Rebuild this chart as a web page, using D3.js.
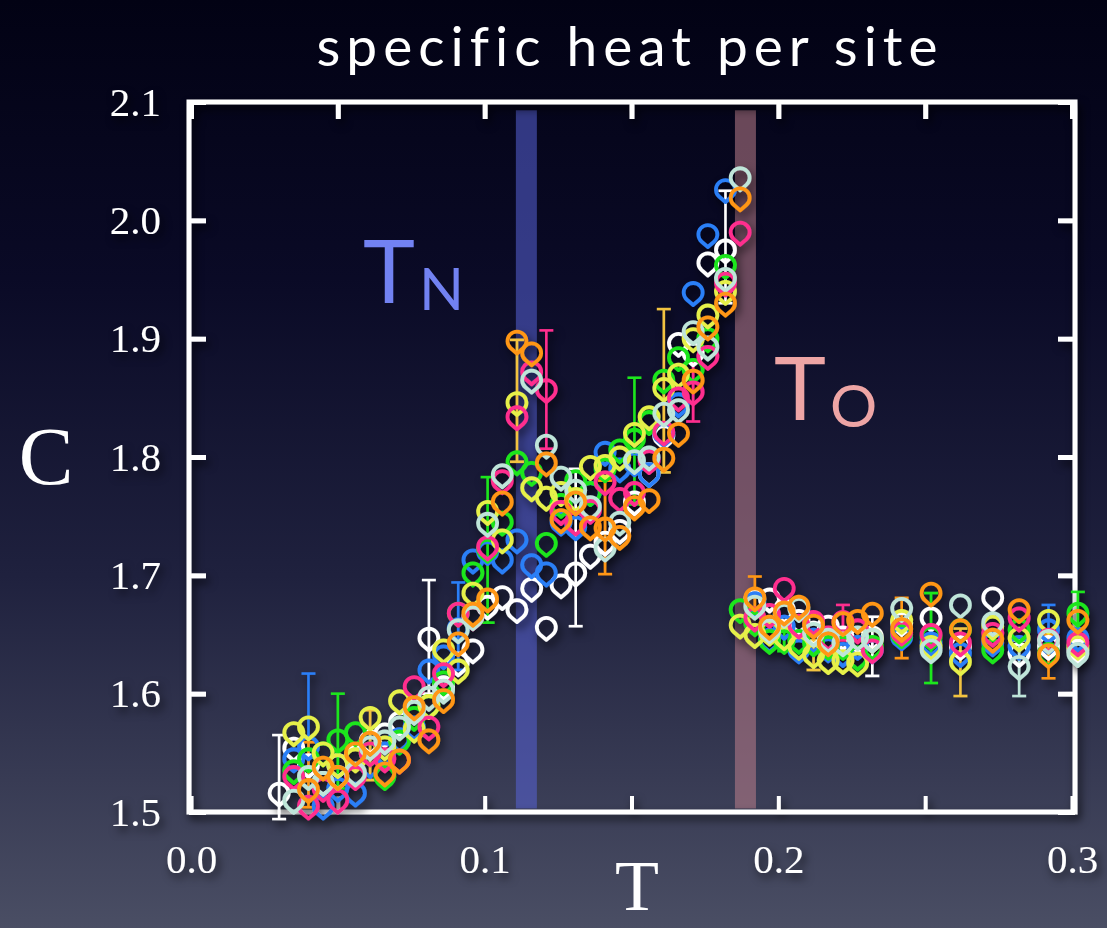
<!DOCTYPE html>
<html>
<head>
<meta charset="utf-8">
<style>
  html, body { margin: 0; padding: 0; background: #05051a; }
  svg { display: block; }
  .axis text { font-family: "Liberation Serif", "Times New Roman", serif; fill: #fff; }
  .axis line { stroke: #fff; }
  .axis path { display: none; }
</style>
</head>
<body>
<script src="https://cdnjs.cloudflare.com/ajax/libs/d3/7.8.5/d3.min.js"></script>
<script>
// temperatures: first 32 = ordered branch, last 17 = high-T branch
var temps = [0.030, 0.035, 0.040, 0.045, 0.050, 0.056, 0.061, 0.066, 0.071, 0.076, 0.081, 0.086, 0.091, 0.096, 0.101, 0.106,
             0.111, 0.116, 0.121, 0.126, 0.131, 0.136, 0.141, 0.146, 0.151, 0.156, 0.161, 0.166, 0.171, 0.176, 0.182, 0.187,
             0.187, 0.192, 0.197, 0.202, 0.207, 0.212, 0.217, 0.222, 0.227, 0.232, 0.242, 0.252, 0.262, 0.273, 0.282, 0.292, 0.302];

var cWhite = [1.516, 1.554, 1.540, 1.525, 1.540, 1.548, 1.560, 1.566, 1.576, 1.586, 1.647, 1.606, 1.626, 1.637, 1.674, 1.682,
              1.671, 1.689, 1.656, 1.692, 1.702, 1.717, 1.728, 1.738, 1.762, 1.786, 1.818, 1.896, 1.888, 1.964, 1.975, null,
              null, 1.680, 1.680, 1.671, 1.662, 1.652, 1.657, 1.648, 1.646, 1.648, 1.660, 1.664, 1.640, 1.681, 1.634, 1.640, 1.637];
var cBlue = [null, 1.545, 1.555, 1.505, 1.520, 1.516, 1.540, 1.550, 1.562, 1.572, 1.620, 1.632, 1.655, 1.713, 1.720, 1.713,
             1.730, 1.709, 1.702, 1.745, 1.741, 1.770, 1.804, 1.790, 1.795, 1.786, 1.820, 1.845, 1.939, 1.988, 2.026, null,
             null, 1.677, 1.646, 1.657, 1.637, 1.646, 1.638, 1.634, 1.640, 1.637, 1.648, 1.643, 1.634, 1.643, 1.640, 1.654, 1.647];
var cGreen = [null, 1.535, 1.545, 1.550, 1.561, 1.567, 1.550, 1.530, 1.560, 1.580, 1.590, 1.610, 1.668, 1.702, 1.722, 1.745,
              1.796, 1.787, 1.727, 1.760, 1.780, 1.770, 1.790, 1.806, 1.815, 1.830, 1.865, 1.884, 1.874, 1.900, 1.962, null,
              1.671, 1.660, 1.645, 1.645, 1.645, 1.643, 1.640, 1.640, 1.631, 1.640, 1.650, 1.648, 1.654, 1.637, 1.654, 1.634, 1.668];
var cYellow = [null, 1.567, 1.572, 1.550, 1.540, 1.545, 1.580, 1.555, 1.594, 1.570, 1.590, 1.637, 1.620, 1.685, 1.754, 1.730,
               1.846, 1.774, 1.766, 1.770, 1.765, 1.792, 1.793, 1.800, 1.820, 1.834, 1.858, 1.870, 1.900, 1.920, 1.940, null,
               1.658, 1.650, 1.652, 1.648, 1.640, 1.633, 1.628, 1.628, 1.626, 1.646, 1.662, 1.640, 1.627, 1.657, 1.647, 1.662, 1.640];
var cPink = [null, 1.530, 1.505, 1.520, 1.510, 1.530, 1.550, 1.545, 1.544, 1.606, 1.572, 1.617, 1.668, 1.665, 1.724, 1.780,
             1.834, 1.872, 1.857, 1.754, 1.745, 1.755, 1.779, 1.765, 1.770, 1.797, 1.821, 1.850, 1.855, 1.885, 1.947, 1.990,
             null, 1.664, 1.667, 1.689, 1.658, 1.661, 1.648, 1.661, 1.654, 1.637, 1.652, 1.650, 1.643, 1.651, 1.664, 1.646, 1.643];
var cMint = [null, 1.510, 1.530, 1.525, 1.530, 1.533, 1.555, 1.560, 1.572, 1.585, 1.597, 1.603, 1.654, 1.665, 1.744, 1.785,
             null, 1.865, 1.810, 1.783, 1.772, 1.758, 1.723, 1.745, 1.797, 1.800, 1.837, 1.840, 1.906, 1.893, 1.951, 2.036,
             null, 1.674, 1.654, 1.667, 1.672, 1.651, 1.646, 1.643, 1.648, 1.646, 1.672, 1.637, 1.675, 1.660, 1.623, 1.645, 1.634];
var cOrange = [null, null, 1.519, 1.538, 1.530, 1.550, 1.559, 1.533, 1.544, 1.589, 1.561, 1.595, 1.643, 1.668, 1.680, 1.762,
               1.898, 1.888, 1.795, 1.747, 1.762, 1.741, 1.740, 1.733, 1.758, 1.764, 1.799, 1.820, 1.865, 1.910, 1.930, 2.019,
               null, 1.681, 1.657, 1.669, 1.674, 1.658, 1.643, 1.660, 1.662, 1.668, 1.655, 1.685, 1.654, 1.646, 1.671, 1.633, 1.662];

// [series, T, low, high]
var errorBars = [
  ["white", 0.030, 1.494, 1.565], ["blue", 0.040, 1.510, 1.617], ["orange", 0.040, 1.504, 1.559],
  ["green", 0.050, 1.520, 1.600], ["yellow", 0.061, 1.527, 1.586], ["white", 0.081, 1.600, 1.696],
  ["blue", 0.091, 1.620, 1.694], ["green", 0.101, 1.660, 1.783], ["yellow", 0.111, 1.796, 1.899],
  ["pink", 0.121, 1.807, 1.907], ["white", 0.131, 1.657, 1.790], ["orange", 0.141, 1.701, 1.780],
  ["green", 0.151, 1.760, 1.867], ["yellow", 0.161, 1.787, 1.925], ["pink", 0.171, 1.830, 1.880],
  ["white", 0.182, 1.930, 2.025],
  ["orange", 0.192, 1.665, 1.699], ["green", 0.202, 1.636, 1.655], ["yellow", 0.212, 1.620, 1.645],
  ["pink", 0.222, 1.645, 1.675], ["white", 0.232, 1.615, 1.665], ["orange", 0.242, 1.630, 1.681],
  ["green", 0.252, 1.609, 1.685], ["yellow", 0.262, 1.598, 1.655], ["mint", 0.282, 1.598, 1.645],
  ["blue", 0.292, 1.635, 1.675], ["orange", 0.292, 1.613, 1.650], ["green", 0.302, 1.650, 1.686]
];

var transitions = [{name: "N", t: 0.1142, color: "rgba(88,98,215,0.55)"},
                   {name: "O", t: 0.1888, color: "rgba(190,128,140,0.55)"}];

var xTicks = [0, 0.05, 0.1, 0.15, 0.2, 0.25, 0.3];
var yTicks = [1.5, 1.6, 1.7, 1.8, 1.9, 2.0, 2.1];

var series = [
  {name: "white", values: cWhite, color: "#ffffff", bar: "#ffffff"},
  {name: "blue", values: cBlue, color: "#2b7ff7", bar: "#2b7ff7"},
  {name: "green", values: cGreen, color: "#1ee61e", bar: "#1ee61e"},
  {name: "yellow", values: cYellow, color: "#e6f04a", bar: "#f2c341"},
  {name: "pink", values: cPink, color: "#ff2f8e", bar: "#ff2f8e"},
  {name: "mint", values: cMint, color: "#bfe5d9", bar: "#bfe5d9"},
  {name: "orange", values: cOrange, color: "#ff9612", bar: "#ff9612"}
];
var barColor = {};
series.forEach(function(s) { barColor[s.name] = s.bar; });

var width = 1107, height = 928;

var svg = d3.select("body").append("svg")
    .attr("width", width)
    .attr("height", height);

var defs = svg.append("defs");
var grad = defs.append("linearGradient")
    .attr("id", "bg")
    .attr("x1", 0).attr("y1", 0).attr("x2", 0).attr("y2", 1);
grad.append("stop").attr("offset", "0%").attr("stop-color", "#020214");
grad.append("stop").attr("offset", "30%").attr("stop-color", "#0a0a26");
grad.append("stop").attr("offset", "62%").attr("stop-color", "#1f213e");
grad.append("stop").attr("offset", "100%").attr("stop-color", "#4a4e64");

defs.append("filter")
    .attr("id", "shadow")
    .attr("x", "-10%").attr("y", "-10%")
    .attr("width", "130%").attr("height", "130%")
  .append("feDropShadow")
    .attr("dx", 3).attr("dy", 5)
    .attr("stdDeviation", 4)
    .attr("flood-color", "#000")
    .attr("flood-opacity", 0.65);

svg.append("rect")
    .attr("width", width)
    .attr("height", height)
    .attr("fill", "url(#bg)");

var x = d3.scaleLinear().domain([0, 0.3]).range([191, 1072]);
var y = d3.scaleLinear().domain([1.5, 2.1]).range([812, 102]);

var fx0 = x(0) - 2, fx1 = x(0.3) + 3, fy0 = y(2.1), fy1 = y(1.5);

// title: Lato is narrower than the original face, so widen it with spacing
var title = svg.append("text")
    .attr("x", 630)
    .attr("y", 66)
    .attr("text-anchor", "middle")
    .attr("fill", "#fff")
    .style("font-family", "Lato, 'Open Sans', sans-serif")
    .style("font-size", "55px")
    .text("specific heat per site");
var tw = title.node().getComputedTextLength();
title.style("letter-spacing", Math.min(6, Math.max(0, (620 - tw) / 21)) + "px");

// transition bands
svg.append("g").selectAll("rect")
    .data(transitions)
  .enter().append("rect")
    .attr("x", function(d) { return x(d.t) - 10.5; })
    .attr("width", 21)
    .attr("y", y(2.093))
    .attr("height", y(1.503) - y(2.093))
    .attr("fill", function(d) { return d.color; });

// frame + ticks
var frame = svg.append("g").attr("filter", "url(#shadow)");

frame.append("g").attr("class", "axis")
    .attr("transform", "translate(0," + fy1 + ")")
    .call(d3.axisBottom(x).tickValues(xTicks).tickSize(-16).tickPadding(32)
        .tickFormat(function(d) { return Math.round(d * 100) % 10 === 0 ? d3.format(".1f")(d) : ""; }))
    .call(function(g) {
      g.selectAll("line").attr("stroke-width", 4);
      g.selectAll("text").style("font-size", "41px");
    });

frame.append("g").attr("class", "axis")
    .attr("transform", "translate(0," + fy0 + ")")
    .call(d3.axisTop(x).tickValues(xTicks).tickSize(-17).tickFormat(""))
    .call(function(g) { g.selectAll("line").attr("stroke-width", 5); });

frame.append("g").attr("class", "axis")
    .attr("transform", "translate(" + fx0 + ",0)")
    .call(d3.axisLeft(y).tickValues(yTicks).tickSize(-17).tickPadding(28)
        .tickFormat(d3.format(".1f")))
    .call(function(g) {
      g.selectAll("line").attr("stroke-width", 5);
      g.selectAll("text").style("font-size", "41px");
    });

frame.append("g").attr("class", "axis")
    .attr("transform", "translate(" + fx1 + ",0)")
    .call(d3.axisRight(y).tickValues(yTicks).tickSize(-17).tickFormat(""))
    .call(function(g) { g.selectAll("line").attr("stroke-width", 5); });

frame.append("rect")
    .attr("x", fx0)
    .attr("y", fy0)
    .attr("width", fx1 - fx0)
    .attr("height", fy1 - fy0)
    .attr("fill", "none")
    .attr("stroke", "#fff")
    .attr("stroke-width", 5);

// axis titles
svg.append("text")
    .attr("x", 46).attr("y", 484)
    .attr("text-anchor", "middle")
    .attr("fill", "#fff")
    .style("font-family", "'Liberation Serif', serif")
    .style("font-size", "82px")
    .text("C");

svg.append("text")
    .attr("x", 637).attr("y", 910)
    .attr("text-anchor", "middle")
    .attr("fill", "#fff")
    .style("font-family", "'Liberation Serif', serif")
    .style("font-size", "72px")
    .text("T");

// T_N and T_O labels
function subLabel(px, py, sub, color) {
  var t = svg.append("text")
      .attr("x", px).attr("y", py)
      .attr("fill", color)
      .style("font-family", "Lato, sans-serif");
  t.append("tspan").style("font-size", "88px").text("T");
  t.append("tspan").attr("dx", 4).attr("dy", 7).style("font-size", "59px").text(sub);
}
subLabel(363, 303, "N", "#7282f2");
subLabel(774, 420, "O", "#eea5a5");

// data: hollow teardrop markers (rounded top, short point at the bottom)
var marker = "M0,12.5 L-6.2,7.2 A9.5,9.5 0 1 1 6.2,7.2 Z";
var plot = svg.append("g").attr("filter", "url(#shadow)");

var bars = plot.append("g").selectAll("g")
    .data(errorBars)
  .enter().append("g")
    .attr("stroke", function(d) { return barColor[d[0]]; })
    .attr("stroke-width", 2.6);
bars.append("line")
    .attr("x1", function(d) { return x(d[1]); })
    .attr("x2", function(d) { return x(d[1]); })
    .attr("y1", function(d) { return y(d[2]); })
    .attr("y2", function(d) { return y(d[3]); });
bars.append("line")
    .attr("x1", function(d) { return x(d[1]) - 7; })
    .attr("x2", function(d) { return x(d[1]) + 7; })
    .attr("y1", function(d) { return y(d[2]); })
    .attr("y2", function(d) { return y(d[2]); });
bars.append("line")
    .attr("x1", function(d) { return x(d[1]) - 7; })
    .attr("x2", function(d) { return x(d[1]) + 7; })
    .attr("y1", function(d) { return y(d[3]); })
    .attr("y2", function(d) { return y(d[3]); });

plot.selectAll("g.series")
    .data(series)
  .enter().append("g")
    .attr("class", "series")
    .attr("stroke", function(d) { return d.color; })
    .attr("fill", "none")
    .attr("stroke-width", 3.8)
    .attr("stroke-linejoin", "round")
  .selectAll("path")
    .data(function(s) {
      return s.values.map(function(v, i) { return {t: temps[i], c: v}; })
          .filter(function(p) { return p.c !== null; });
    })
  .enter().append("path")
    .attr("d", marker)
    .attr("transform", function(p) { return "translate(" + x(p.t) + "," + y(p.c) + ")"; });
</script>
</body>
</html>
